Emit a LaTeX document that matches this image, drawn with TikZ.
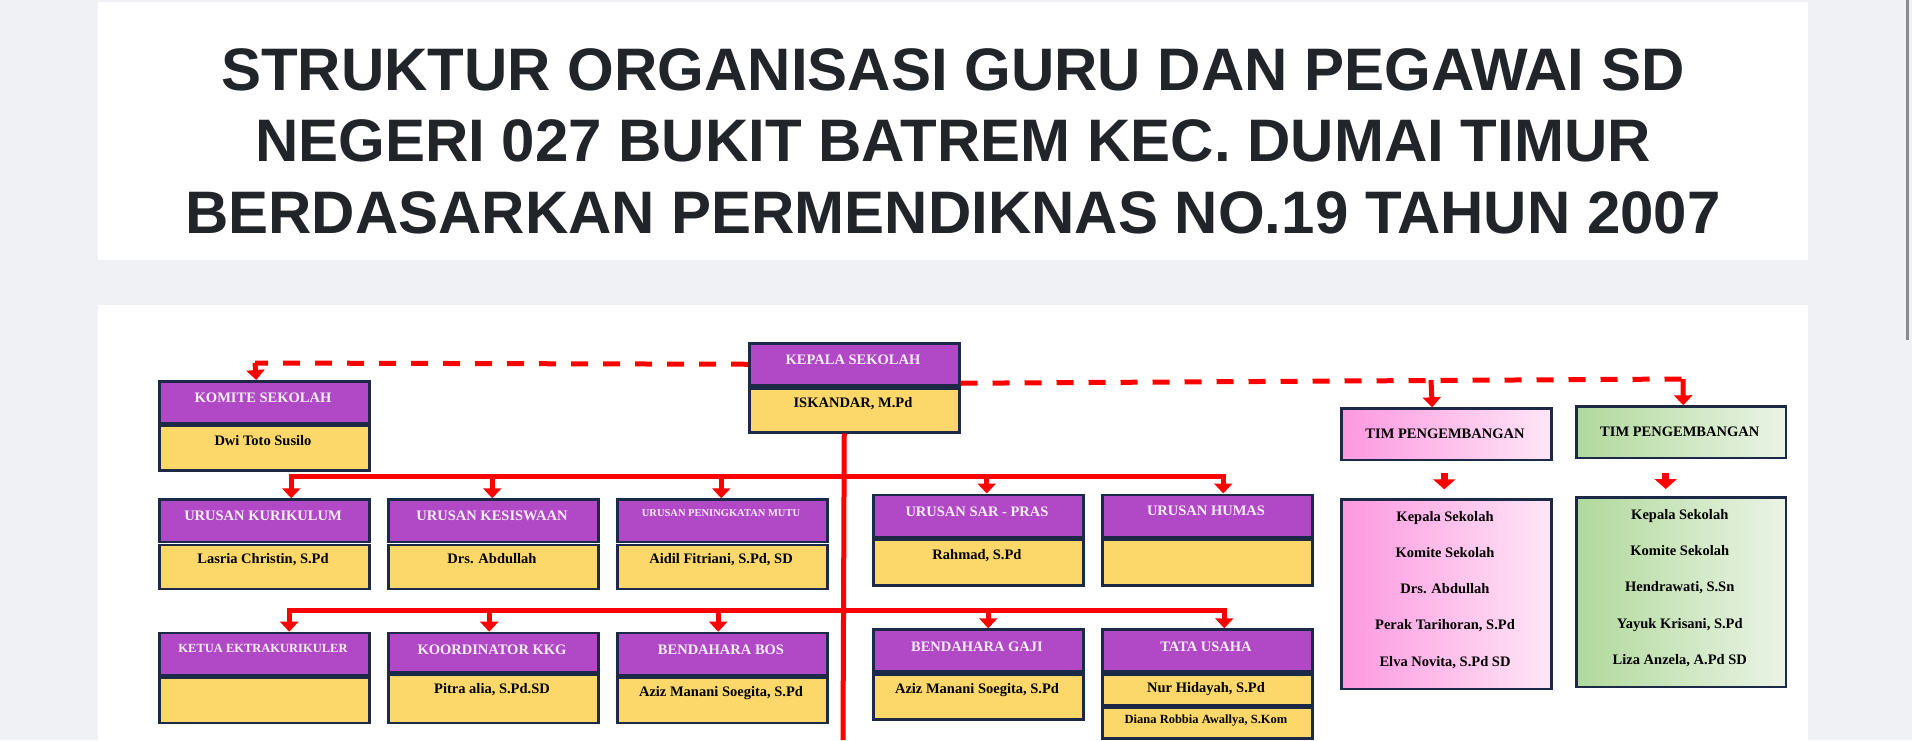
\documentclass[tikz,border=0pt]{standalone}
\usepackage{fontspec}
\setmainfont{Liberation Serif}
\newfontfamily\titlefont{Liberation Sans}
\usetikzlibrary{arrows.meta}
\definecolor{bg}{HTML}{F0F1F5}
\definecolor{purp}{HTML}{B149C6}
\definecolor{yel}{HTML}{FCD86A}
\definecolor{navy}{HTML}{1C2A48}
\definecolor{ttl}{HTML}{212529}
\definecolor{lbl}{HTML}{F6EEF8}
\definecolor{pinkL}{HTML}{FD98E0}
\definecolor{pinkR}{HTML}{FFE6F6}
\definecolor{grnL}{HTML}{B0D99B}
\definecolor{grnR}{HTML}{EBF4E6}
\definecolor{scroll}{HTML}{8C8C8C}
\begin{document}
\begin{tikzpicture}[x=1pt,y=-1pt,
  pbox/.style={draw=navy, line width=2.5pt, fill=purp, minimum width=210pt, inner sep=0pt, anchor=north west},
  ybox/.style={draw=navy, line width=2.5pt, fill=yel, minimum width=210pt, inner sep=0pt, anchor=north west},
  pinkbox/.style={draw=navy, line width=2.5pt, left color=pinkL, right color=pinkR, minimum width=210pt, inner sep=0pt, anchor=north west},
  grnbox/.style={draw=navy, line width=2.5pt, left color=grnL, right color=grnR, minimum width=209.5pt, inner sep=0pt, anchor=north west},
  lt/.style={font=\fontsize{14.5}{17}\selectfont\bfseries, text=lbl, anchor=base, inner sep=0pt},
  lts/.style={font=\fontsize{12.5}{15}\selectfont\bfseries, text=lbl, anchor=base, inner sep=0pt},
  ltxs/.style={font=\fontsize{10.5}{12}\selectfont\bfseries, text=lbl, anchor=base, inner sep=0pt},
  nt/.style={font=\fontsize{14.5}{17}\selectfont\bfseries, text=black, anchor=base, inner sep=0pt},
  nts/.style={font=\fontsize{12.5}{15}\selectfont\bfseries, text=black, anchor=base, inner sep=0pt},
  ttlstyle/.style={font=\titlefont\fontsize{60}{70}\selectfont\bfseries, text=ttl, anchor=base, inner sep=0pt},
  conn/.style={draw=red, line width=5pt, -{Triangle[width=18pt,length=10pt]}},
  bigarrow/.style={draw=red, line width=7pt, -{Triangle[width=22pt,length=10pt]}},
  trunk/.style={draw=red, line width=5pt},
  dline/.style={draw=red, line width=5pt, dash pattern=on 17pt off 15pt}
]
\useasboundingbox (0,0) rectangle (1912,740);
\fill[bg] (0,0) rectangle (1912,740);
\fill[white] (97.5,2) rectangle (1808,259.7);
\fill[white] (97.5,305) rectangle (1808,740);
\fill[scroll] (1906,0) rectangle (1909,340);

% title
\node[ttlstyle] (t1) at (953,90) {STRUKTUR ORGANISASI GURU DAN PEGAWAI SD};
\node[ttlstyle] (t2) at (953,161.5) {NEGERI 027 BUKIT BATREM KEC. DUMAI TIMUR};
\node[ttlstyle] (t3) at (953,233) {BERDASARKAN PERMENDIKNAS NO.19 TAHUN 2007};

% connectors first (under boxes)
\coordinate (r1) at (843,476.7);
\coordinate (r2) at (843,610);
\coordinate (tEnd) at (843,740);
\coordinate (dL) at (255,363);
\coordinate (dT1) at (1431,380);
\coordinate (dR) at (1683,379);

% KEPALA
\node[pbox, minimum height=42pt] (kep) at (748,342) {};
\node[ybox, minimum height=44pt] (kepY) at (748,387) {};
\node[lt] (kepL) at (853,364.3) {KEPALA SEKOLAH};
\node[nt] (kepN) at (853,407) {ISKANDAR, M.Pd};

% KOMITE
\node[pbox, minimum height=42pt] (kom) at (158,380) {};
\node[ybox, minimum height=44.5pt] (komY) at (158,424.5) {};
\node[lt] (komL) at (263,402.5) {KOMITE SEKOLAH};
\node[nt] (komN) at (263,445.7) {Dwi Toto Susilo};

% row 1 left
\node[pbox, minimum height=42.5pt] (kur) at (158,498.3) {};
\node[ybox, minimum height=44pt] (kurY) at (158,543.5) {};
\node[lt] (kurL) at (263,520.5) {URUSAN KURIKULUM};
\node[nt] (kurN) at (263,563.5) {Lasria Christin, S.Pd};

\node[pbox, minimum height=42.5pt] (kes) at (387,498.3) {};
\node[ybox, minimum height=44pt] (kesY) at (387,543.5) {};
\node[lt] (kesL) at (492,520.5) {URUSAN KESISWAAN};
\node[nt] (kesN) at (492,563) {Drs. Abdullah};

\node[pbox, minimum height=42.5pt] (mut) at (616,498.3) {};
\node[ybox, minimum height=44pt] (mutY) at (616,543.5) {};
\node[ltxs] (mutL) at (721,516.3) {URUSAN PENINGKATAN MUTU};
\node[nt] (mutN) at (721,563.3) {Aidil Fitriani, S.Pd, SD};

% row 1 right
\node[pbox, minimum height=42pt] (sar) at (872,493.5) {};
\node[ybox, minimum height=46pt] (sarY) at (872,538) {};
\node[lt] (sarL) at (977,516.7) {URUSAN SAR - PRAS};
\node[nt] (sarN) at (977,559) {Rahmad, S.Pd};

\node[pbox, minimum height=42pt] (hum) at (1101,493.5) {};
\node[ybox, minimum height=46pt] (humY) at (1101,538) {};
\node[lt] (humL) at (1206,515.3) {URUSAN HUMAS};

% row 2 left
\node[pbox, minimum height=42pt] (ket) at (158,631.7) {};
\node[ybox, minimum height=45.5pt] (ketY) at (158,676.2) {};
\node[lts] (ketL) at (263,652.6) {KETUA EKTRAKURIKULER};

\node[pbox, minimum height=39.5pt] (kkg) at (387,631.7) {};
\node[ybox, minimum height=48pt] (kkgY) at (387,673.7) {};
\node[lt] (kkgL) at (492,654.3) {KOORDINATOR KKG};
\node[nt] (kkgN) at (492,693.3) {Pitra alia, S.Pd.SD};

\node[pbox, minimum height=42pt] (bos) at (616,631.7) {};
\node[ybox, minimum height=45.5pt] (bosY) at (616,676.2) {};
\node[lt] (bosL) at (721,654.3) {BENDAHARA BOS};
\node[nt] (bosN) at (721,696.7) {Aziz Manani Soegita, S.Pd};

% row 2 right
\node[pbox, minimum height=42pt] (gaj) at (872,628.3) {};
\node[ybox, minimum height=45.3pt] (gajY) at (872,673) {};
\node[lt] (gajL) at (977,651) {BENDAHARA GAJI};
\node[nt] (gajN) at (977,693.3) {Aziz Manani Soegita, S.Pd};

\node[pbox, minimum height=42pt] (tat) at (1101,628.3) {};
\node[ybox, minimum height=31pt] (tatY) at (1101,673) {};
\node[ybox, minimum height=30.5pt] (tatZ) at (1101,706.5) {};
\node[lt] (tatL) at (1206,651) {TATA USAHA};
\node[nt] (tatN) at (1206,692.3) {Nur Hidayah, S.Pd};
\node[nts] (tatM) at (1206,723.6) {Diana Robbia Awallya, S.Kom};

% TIM boxes
\node[pinkbox, minimum height=51.4pt] (tim1) at (1340,407.3) {};
\node[nt] (tim1L) at (1445,438.3) {TIM PENGEMBANGAN};
\node[grnbox, minimum height=51.4pt] (tim2) at (1575,405.3) {};
\node[nt] (tim2L) at (1679.75,436) {TIM PENGEMBANGAN};

\node[pinkbox, minimum height=189.4pt] (lst1) at (1340,498.3) {};
\node[nt] (l1a) at (1445,521) {Kepala Sekolah};
\node[nt] (l1b) at (1445,557.3) {Komite Sekolah};
\node[nt] (l1c) at (1445,593.7) {Drs. Abdullah};
\node[nt] (l1d) at (1445,629.7) {Perak Tarihoran, S.Pd};
\node[nt] (l1e) at (1445,666) {Elva Novita, S.Pd SD};

\node[grnbox, minimum height=189.7pt] (lst2) at (1575,496) {};
\node[nt] (l2a) at (1679.75,519) {Kepala Sekolah};
\node[nt] (l2b) at (1679.75,555.3) {Komite Sekolah};
\node[nt] (l2c) at (1679.75,591.7) {Hendrawati, S.Sn};
\node[nt] (l2d) at (1679.75,628) {Yayuk Krisani, S.Pd};
\node[nt] (l2e) at (1679.75,664.3) {Liza Anzela, A.Pd SD};

% trunk and solid connectors
\draw[trunk] ([xshift=-10pt]kepY.south) -- (tEnd);
\draw[conn] (r1) -| ([xshift=27pt]kur.north);
\draw[conn] (r1) -| ([xshift=-1pt]kes.north);
\draw[conn] (r1) -| ([xshift=-1pt]mut.north);
\draw[conn] (r1) -| ([xshift=8.5pt]sar.north);
\draw[conn] (r1) -| ([xshift=16pt]hum.north);
\draw[conn] (r2) -| ([xshift=25pt]ket.north);
\draw[conn] (r2) -| ([xshift=-4pt]kkg.north);
\draw[conn] (r2) -| ([xshift=-4pt]bos.north);
\draw[conn] (r2) -| ([xshift=10pt]gaj.north);
\draw[conn] (r2) -| ([xshift=17pt]tat.north);

% dashed connectors
\draw[dline] (kep.west) -- (dL);
\draw[conn] (dL) -- ([xshift=-8pt]kom.north);
\draw[dline] ([yshift=-19pt]kep.east) -- (dR);
\draw[conn] (dT1) -- ([xshift=-14pt]tim1.north);
\draw[conn] (dR) -- ([xshift=2.25pt]tim2.north);

% arrows between TIM and lists
\draw[bigarrow] ([xshift=-2pt,yshift=-11.3pt]tim1.south) -- ([xshift=-2pt,yshift=9pt]lst1.north);
\draw[bigarrow] ([xshift=-15.3pt,yshift=-13.3pt]tim2.south) -- ([xshift=-15.3pt,yshift=7pt]lst2.north);
\end{tikzpicture}
\end{document}
